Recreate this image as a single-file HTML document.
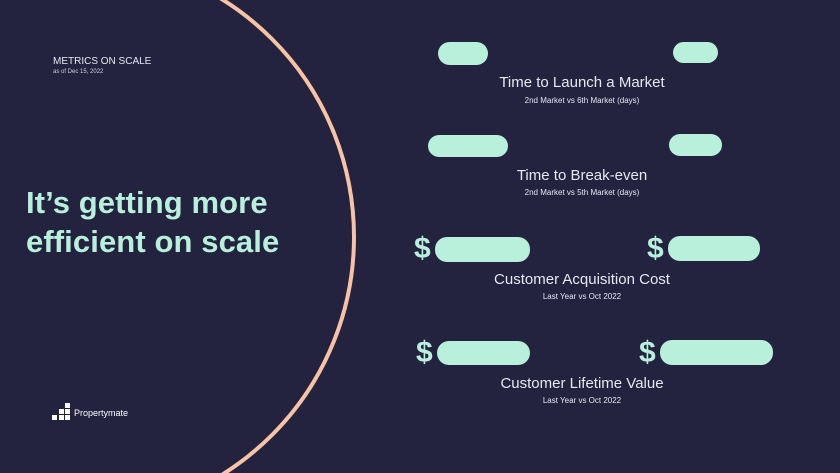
<!DOCTYPE html>
<html><head><meta charset="utf-8"><style>
*{margin:0;padding:0;box-sizing:border-box}
html,body{width:840px;height:473px;overflow:hidden}
body{background:#23223f;position:relative;font-family:"Liberation Sans",sans-serif}
.t{position:absolute;white-space:nowrap}
.c{position:absolute;left:382px;width:400px;text-align:center;color:#e8e8f0;line-height:1.2}
.b{position:absolute;background:#b8f0dc;border-radius:12px}
.d{position:absolute;color:#b8f0dc;font-weight:bold;font-size:30px;line-height:34px}
.sq{position:absolute;width:5px;height:5px;background:#fff}
</style></head><body>
<svg width="840" height="473" style="position:absolute;left:0;top:0;overflow:hidden"><circle cx="74" cy="237" r="280" fill="none" stroke="#f7c3a4" stroke-width="4"/></svg>
<div class="t" style="left:53px;top:56px;font-size:10px;color:#e8e8f0">METRICS ON SCALE</div>
<div class="t" style="left:53px;top:69px;font-size:6px;color:#d0d0dc">as of Dec 15, 2022</div>
<div class="t" style="left:26px;top:183px;font-size:31px;font-weight:bold;color:#b8f0dc;line-height:39px;letter-spacing:0.1px">It’s getting more<br>efficient on scale</div>
<div style="position:absolute;left:52px;top:403px;width:19px;height:18px">
<div class="sq" style="left:13px;top:0"></div>
<div class="sq" style="left:7px;top:6px"></div><div class="sq" style="left:13px;top:6px"></div>
<div class="sq" style="left:0;top:12px"></div><div class="sq" style="left:7px;top:12px"></div><div class="sq" style="left:13px;top:12px"></div></div>
<div class="t" style="left:74px;top:408px;font-size:9px;color:#fff">Propertymate</div>
<div class="b" style="left:438px;top:42px;width:50px;height:23px"></div>
<div class="b" style="left:673px;top:42px;width:45px;height:21px"></div>
<div class="c" style="top:74px;font-size:15px">Time to Launch a Market</div>
<div class="c" style="top:96px;font-size:8px">2nd Market vs 6th Market (days)</div>
<div class="b" style="left:428px;top:135px;width:80px;height:22px"></div>
<div class="b" style="left:669px;top:134px;width:53px;height:22px"></div>
<div class="c" style="top:167px;font-size:15px">Time to Break-even</div>
<div class="c" style="top:188px;font-size:8px">2nd Market vs 5th Market (days)</div>
<div class="d" style="left:414px;top:232px">$</div>
<div class="b" style="left:435px;top:237px;width:95px;height:25px"></div>
<div class="d" style="left:647px;top:232px">$</div>
<div class="b" style="left:668px;top:236px;width:92px;height:25px"></div>
<div class="c" style="top:271px;font-size:15px">Customer Acquisition Cost</div>
<div class="c" style="top:292px;font-size:8px">Last Year vs Oct 2022</div>
<div class="d" style="left:416px;top:336px">$</div>
<div class="b" style="left:437px;top:341px;width:93px;height:24px"></div>
<div class="d" style="left:639px;top:336px">$</div>
<div class="b" style="left:660px;top:340px;width:113px;height:25px"></div>
<div class="c" style="top:375px;font-size:15px">Customer Lifetime Value</div>
<div class="c" style="top:396px;font-size:8px">Last Year vs Oct 2022</div>
</body></html>
